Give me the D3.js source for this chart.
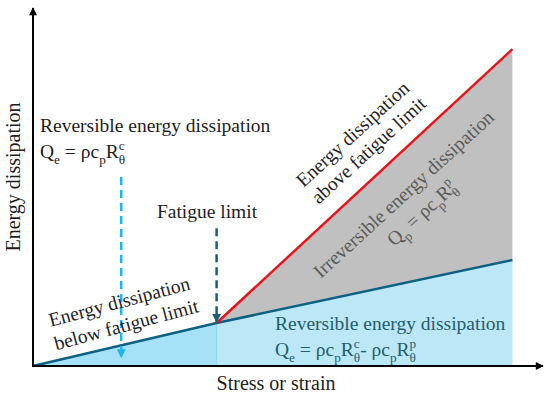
<!DOCTYPE html>
<html>
<head>
<meta charset="utf-8">
<script src="https://cdn.jsdelivr.net/npm/d3@7/dist/d3.min.js"></script>
<style>
  body { margin: 0; background: #fff; }
  svg { display: block; font-family: "Liberation Serif", "Times New Roman", serif; }
</style>
</head>
<body>
<svg id="svg1" width="550" height="398"></svg>
<script>
// chart values (axis units: 0..100 along each axis)
var stress      = [0, 36, 94];      // origin, fatigue limit, end of plot
var reversible  = [0, 12, 29.6];    // blue line (reversible energy)
var total       = [0, 12, 88.5];    // red line (total energy above fatigue limit)
var fatigueIdx  = 1;

// dashed arrows: x, from y, to y
var arrowX    = [17.3, 36];
var arrowFrom = [52.8, 38.5];
var arrowTo   = [2.4, 12.3];

var svg = d3.select('#svg1');

var scaleX = d3.scaleLinear().domain([0, 100]).range([33, 543]);
var scaleY = d3.scaleLinear().domain([0, 100]).range([366, 8]);

var defs = svg.append('defs');
function marker(id, color, w, h) {
    defs.append('marker')
        .attr('id', id)
        .attr('viewBox', '0 0 10 10')
        .attr('refX', 9).attr('refY', 5)
        .attr('markerWidth', w).attr('markerHeight', h)
        .attr('markerUnits', 'userSpaceOnUse')
        .attr('orient', 'auto')
        .append('path')
        .attr('d', 'M0,0 L10,5 L0,10 Z')
        .attr('fill', color);
}
marker('ax', '#000', 9, 8);
marker('lightArrow', '#27b3e8', 9, 9);
marker('darkArrow', '#1b5e7b', 9, 9);

var pts = stress.map(function(s, i) { return {x: s, r: reversible[i], t: total[i]}; });
var below = pts.slice(0, fatigueIdx + 1);
var above = pts.slice(fatigueIdx);

// fills
var areaLow = d3.area().x(function(d) { return scaleX(d.x); }).y0(scaleY(0)).y1(function(d) { return scaleY(d.r); });
var areaMid = d3.area().x(function(d) { return scaleX(d.x); }).y0(function(d) { return scaleY(d.r); }).y1(function(d) { return scaleY(d.t); });

svg.append('path').datum(below).attr('d', areaLow).attr('fill', '#a5e2f7');
svg.append('path').datum(above).attr('d', areaLow).attr('fill', '#bce7f6');
svg.append('path').datum(above).attr('d', areaMid).attr('fill', '#c0c0c0');

svg.append('line')
    .attr('x1', scaleX(stress[fatigueIdx])).attr('x2', scaleX(stress[fatigueIdx]))
    .attr('y1', scaleY(0)).attr('y2', scaleY(reversible[fatigueIdx]))
    .attr('stroke', '#8fd6ef').attr('stroke-width', 1);

// lines
var lineR = d3.line().x(function(d) { return scaleX(d.x); }).y(function(d) { return scaleY(d.r); });
var lineT = d3.line().x(function(d) { return scaleX(d.x); }).y(function(d) { return scaleY(d.t); });

svg.append('path').datum(pts).attr('d', lineR)
    .attr('fill', 'none').attr('stroke', '#0d6184').attr('stroke-width', 2.5);
svg.append('path').datum(above).attr('d', lineT)
    .attr('fill', 'none').attr('stroke', '#e8141c').attr('stroke-width', 2.5);

// axes
svg.append('line')
    .attr('x1', scaleX(0)).attr('y1', scaleY(0)).attr('x2', scaleX(0)).attr('y2', scaleY(100))
    .attr('stroke', '#000').attr('stroke-width', 2).attr('marker-end', 'url(#ax)');
svg.append('line')
    .attr('x1', scaleX(0) - 1).attr('y1', scaleY(0)).attr('x2', scaleX(100)).attr('y2', scaleY(0))
    .attr('stroke', '#000').attr('stroke-width', 2).attr('marker-end', 'url(#ax)');

// dashed arrows
var arrowColor = ['#27b3e8', '#1b5e7b'];
var arrowMark = ['lightArrow', 'darkArrow'];
arrowX.forEach(function(x, i) {
    svg.append('line')
        .attr('x1', scaleX(x)).attr('x2', scaleX(x))
        .attr('y1', scaleY(arrowFrom[i])).attr('y2', scaleY(arrowTo[i]))
        .attr('stroke', arrowColor[i]).attr('stroke-width', 2.5)
        .attr('stroke-dasharray', '8,5')
        .attr('marker-end', 'url(#' + arrowMark[i] + ')');
});

// text helpers
function label(x, y, str, size, color, anchor, angle) {
    return svg.append('text')
        .attr('transform', 'translate(' + x + ',' + y + ')' + (angle ? ' rotate(' + angle + ')' : ''))
        .attr('font-size', size).attr('fill', color)
        .attr('text-anchor', anchor || 'start')
        .text(str);
}

// parts: [text, sub, sup]
function math(x, y, parts, size, color, anchor, angle) {
    var t = svg.append('text')
        .attr('transform', 'translate(' + x + ',' + y + ')' + (angle ? ' rotate(' + angle + ')' : ''))
        .attr('font-size', size).attr('fill', color)
        .attr('text-anchor', anchor || 'start');
    var shift = 0, pad = 0;
    function seg(str, fs, target, dx) {
        var s = t.append('tspan').attr('font-size', fs).attr('dy', target - shift).text(str);
        if (dx) s.attr('dx', dx);
        shift = target;
        return s;
    }
    parts.forEach(function(p) {
        seg(p[0], size, 0, pad);
        pad = 0;
        if (p[1]) {
            var sb = seg(p[1], size * 0.68, size * 0.3);
            if (p[2]) {
                var w = sb.node().getComputedTextLength();
                var sp = seg(p[2], size * 0.68, -size * 0.42, -w);
                var w2 = sp.node().getComputedTextLength();
                if (w > w2) pad = w - w2;
            }
        }
    });
    return t;
}

var dark = '#1e1e1e';
var fs = 19.5;

// left top annotation
label(40, 132, 'Reversible energy dissipation', fs, dark);
math(40, 158, [['Q', 'e'], [' = ρc', 'p'], ['R', 'θ', 'c']], fs, dark);

// fatigue limit
label(207, 218, 'Fatigue limit', fs, dark, 'middle');

// below fatigue limit (rotated)
var angLow = -15;
label(121, 308, 'Energy dissipation', fs, dark, 'middle', angLow);
label(128, 331, 'below fatigue limit', fs, dark, 'middle', angLow);

// above fatigue limit (rotated along red line)
var angUp = -42.5;
label(357, 139, 'Energy dissipation', fs, dark, 'middle', angUp);
label(373, 155, 'above fatigue limit', fs, dark, 'middle', angUp);

// irreversible (rotated, grey)
label(408, 199, 'Irreversible energy dissipation', fs, '#5a5a5a', 'middle', angUp);
math(426, 218, [['Q', 'p'], [' = ρc', 'p'], ['R', 'θ', 'p']], fs, '#5a5a5a', 'middle', angUp);

// reversible right
var teal = '#1f5e6e';
label(275, 330, 'Reversible energy dissipation', fs, teal);
math(275, 356, [['Q', 'e'], [' =  ρc', 'p'], ['R', 'θ', 'c'], ['- ρc', 'p'], ['R', 'θ', 'p']], fs, teal);

// axis titles
label(276, 390, 'Stress or strain', 20, dark, 'middle');
label(20, 177, 'Energy dissipation', 20, dark, 'middle', -90);
</script>
</body>
</html>
